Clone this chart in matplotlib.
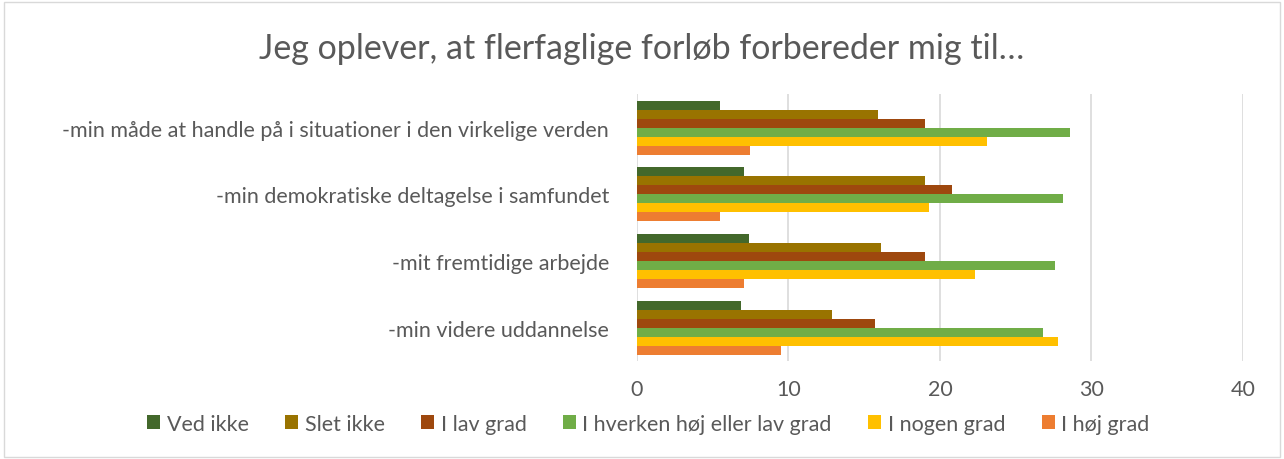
import numpy as np
import matplotlib
matplotlib.use("Agg")
import matplotlib.pyplot as plt
from matplotlib.patches import Rectangle

plt.rcParams['font.family'] = ['Lato', 'DejaVu Sans']

# categories bottom -> top
categories = ['-min videre uddannelse', '-mit fremtidige arbejde',
              '-min demokratiske deltagelse i samfundet',
              '-min måde at handle på i situationer i den virkelige verden']
series = ['Ved ikke', 'Slet ikke', 'I lav grad', 'I hverken høj eller lav grad',
          'I nogen grad', 'I høj grad']
colors = ['#43682b', '#997300', '#9e480e', '#70ad47', '#ffc000', '#ed7d31']

ved_ikke = [6.9, 7.4, 7.1, 5.5]
slet_ikke = [12.9, 16.1, 19.0, 15.9]
lav_grad = [15.7, 19.0, 20.8, 19.0]
hverken = [26.8, 27.6, 28.1, 28.6]
nogen_grad = [27.8, 22.3, 19.3, 23.1]
hoej_grad = [9.5, 7.1, 5.5, 7.5]
values = [ved_ikke, slet_ikke, lav_grad, hverken, nogen_grad, hoej_grad]

fig = plt.figure(figsize=(12.84, 4.6), dpi=100)
fig.patches.append(Rectangle((0.003, 0.004), 0.994, 0.99, transform=fig.transFigure,
                             fill=False, edgecolor='#d9d9d9', linewidth=1))
ax = fig.add_axes([0.496, 0.213, 0.472, 0.58])

y = np.arange(len(categories))
h = 0.135
for i, (name, vals, c) in enumerate(zip(series, values, colors)):
    ax.barh(y + (2.5 - i) * h, vals, height=h, color=c, label=name, zorder=3)

ax.set_xlim(0, 40)
ax.set_ylim(-0.5, 3.5)
ax.set_xticks([0, 10, 20, 30, 40])
ax.set_yticks(y)
ax.set_yticklabels(categories)
ax.grid(axis='x', color='#d9d9d9', linewidth=1.2, zorder=0)
for s in ax.spines.values():
    s.set_visible(False)
ax.tick_params(length=0, labelsize=15.5, colors='#595959', pad=13)
ax.tick_params(axis='y', pad=20)

fig.suptitle('Jeg oplever, at flerfaglige forløb forbereder mig til…', fontsize=24.5,
             color='#595959', y=0.928)
fig.legend(loc='center', bbox_to_anchor=(0.505, 0.077), ncol=6, frameon=False,
           fontsize=15.5, labelcolor='#595959', handlelength=0.6, handleheight=0.6,
           handletextpad=0.3, columnspacing=1.7)

fig.savefig('out.png', dpi=100)
